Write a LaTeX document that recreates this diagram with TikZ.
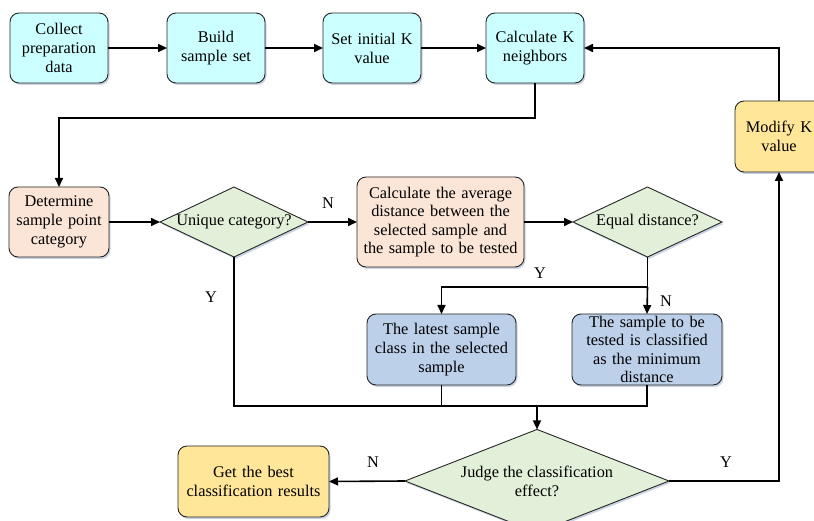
\documentclass[tikz,border=0pt]{standalone}
\usepackage{fontspec}
\setmainfont{Liberation Serif}
\usetikzlibrary{shapes.geometric,arrows.meta,shadows}

\definecolor{boxcyan}{HTML}{CCFFFF}
\definecolor{boxpeach}{HTML}{FBE5D6}
\definecolor{boxgreen}{HTML}{E2F0D9}
\definecolor{boxblue}{HTML}{BDD0EA}
\definecolor{boxyellow}{HTML}{FFE699}
\definecolor{shadowblue}{HTML}{A9B8D0}

\tikzset{
  base/.style={draw=black!85, line width=0.9pt, font=\fontsize{16.3}{19}\selectfont,
    align=center, inner sep=0pt, outer sep=0pt,
    drop shadow={shadow xshift=1.5pt, shadow yshift=-2pt, fill=shadowblue, opacity=0.6}},
  proc/.style={base, rounded corners=9pt, minimum height=70pt},
  decision/.style={base, diamond, fill=boxgreen, shape aspect=2.1},
  flow/.style={line width=1.6pt, -{Triangle[length=9pt,width=8pt]}},
  plain/.style={line width=1.6pt},
  lbl/.style={font=\fontsize{16.3}{19}\selectfont, inner sep=0pt}
}

\begin{document}
\begin{tikzpicture}[x=1pt,y=-1pt]
\clip (0,0) rectangle (814,521);

% top row
\node[proc, fill=boxcyan, minimum width=98pt, text width=92pt] (collect) at (59,48) {Collect\\preparation\\data};
\node[proc, fill=boxcyan, minimum width=98pt, text width=92pt] (build) at (216,48) {Build\\sample set};
\node[proc, fill=boxcyan, minimum width=98pt, text width=94pt] (setk) at (372,48) {Set initial K\\value};
\node[proc, fill=boxcyan, minimum width=98pt, text width=94pt] (calck) at (535,48) {Calculate K\\neighbors};
\node[proc, fill=boxyellow, minimum width=88pt, minimum height=71pt, text width=84pt] (modk) at (779,136.5) {Modify K\\value};

% middle row
\node[proc, fill=boxpeach, minimum width=100pt, text width=96pt] (determine) at (59,222) {Determine\\sample point\\category};
\node[decision, minimum width=148pt, minimum height=70pt] (unique) at (234,222) {Unique category?};
\node[proc, fill=boxpeach, minimum width=167pt, minimum height=90pt, text width=162pt,
  font=\fontsize{16.3}{18.5}\selectfont] (avgdist) at (440.5,222)
  {Calculate the average\\distance between the\\selected sample and\\the sample to be tested};
\node[decision, minimum width=149pt, minimum height=70pt] (equal) at (647.5,222) {Equal distance?};

% result boxes
\node[proc, fill=boxblue, minimum width=149pt, minimum height=71pt, text width=144pt] (latest) at (441.5,349.5)
  {The latest sample\\class in the selected\\sample};
\node[proc, fill=boxblue, minimum width=150pt, minimum height=71pt, text width=144pt,
  font=\fontsize{16.3}{18.5}\selectfont] (minimum) at (647,349.5)
  {The sample to be\\tested is classified\\as the minimum\\distance};

% bottom row
\node[decision, minimum width=264pt, minimum height=96pt] (judge) at (537,481) {Judge the classification\\effect?};
\node[proc, fill=boxyellow, minimum width=151pt, minimum height=71pt, text width=146pt] (best) at (253.5,481.5)
  {Get the best\\classification results};

% junctions
\coordinate (split) at (647.5,287);
\coordinate (merge) at (537,406);

% connectors
\draw[flow] (collect.east) -- (build.west);
\draw[flow] (build.east) -- (setk.west);
\draw[flow] (setk.east) -- (calck.west);
\draw[flow] (modk.north) |- (calck.east);
\draw[flow] (calck.south) -- ++(0,35) -| (determine.north);
\draw[flow] (determine.east) -- (unique.west);
\draw[flow] (unique.east) -- (avgdist.west);
\draw[flow] (avgdist.east) -- (equal.west);
\draw[plain] (equal.south) -- (split);
\draw[flow] (split) -- (minimum.north);
\draw[flow] (split) -| (latest.north);
\draw[plain] (unique.south) -- (unique.south |- merge) -- (minimum.south |- merge) -- (minimum.south);
\draw[plain] (latest.south) -- (latest.south |- merge);
\draw[flow] (merge) -- (judge.north);
\draw[flow] (judge.west) -- (best.east);
\draw[flow] (judge.east) -| (modk.south);

% branch labels
\node[lbl] (nUnique) at (328,203) {N};
\node[lbl] (yUnique) at (211,297) {Y};
\node[lbl] (yEqual) at (540,273) {Y};
\node[lbl] (nEqual) at (666,301) {N};
\node[lbl] (nJudge) at (373,462) {N};
\node[lbl] (yJudge) at (726,462) {Y};
\end{tikzpicture}
\end{document}
